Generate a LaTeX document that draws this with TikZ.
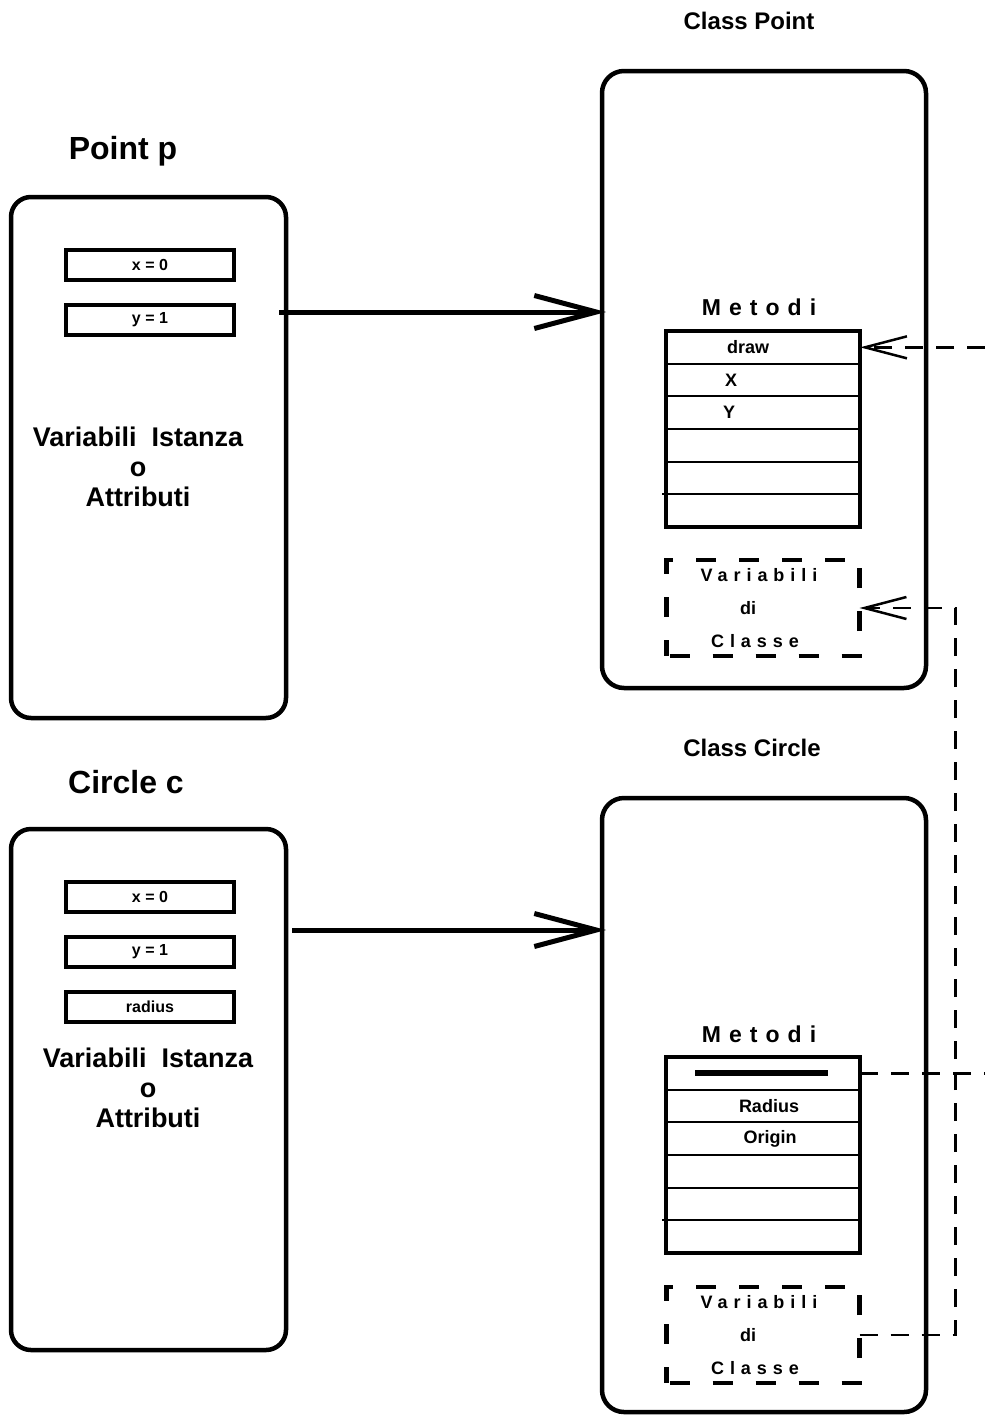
\documentclass[tikz,border=0pt]{standalone}
\usepackage{fontspec}
\setmainfont{Liberation Sans}
\newfontfamily\spacedfont[LetterSpace=35.0]{Liberation Sans}
\newfontfamily\widefont[LetterSpace=33.0]{Liberation Sans}
\newcommand\wide[1]{{\widefont\bfseries #1}}
\usetikzlibrary{arrows.meta,positioning}
\tikzset{
  objbox/.style={rectangle, rounded corners=20pt, draw, line width=4.5pt,
                 minimum width=275pt, minimum height=521pt, outer sep=0pt},
  classbox/.style={rectangle, rounded corners=22pt, draw, line width=4.5pt,
                   minimum width=324pt, outer sep=0pt},
  fieldbox/.style={rectangle, draw, line width=4.5pt, minimum width=168pt,
                   minimum height=30pt, inner sep=0pt,
                   font=\bfseries\fontsize{16}{19}\selectfont},
  methrow/.style={rectangle, draw, line width=2pt, minimum width=194pt,
                  minimum height=32.67pt, inner sep=0pt, outer sep=0pt},
  methframe/.style={line width=4.5pt},
  methtxt/.style={inner sep=1pt, font=\bfseries\fontsize{18}{21}\selectfont},
  methhead/.style={inner sep=1pt, font=\spacedfont\bfseries\fontsize{23}{26}\selectfont},
  cvarbox/.style={rectangle, draw, line width=4.5pt, dash pattern=on 20pt off 23pt,
                  dash phase=-3pt, minimum width=193pt, minimum height=96pt,
                  align=center, inner sep=0pt, outer sep=0pt,
                  font=\bfseries\fontsize{18}{33}\selectfont},
  bigtitle/.style={inner sep=1pt, font=\bfseries\fontsize{32}{36}\selectfont},
  classtitle/.style={inner sep=1pt, font=\bfseries\fontsize{24}{28}\selectfont},
  attrtxt/.style={align=center, inner sep=1pt, font=\bfseries\fontsize{27}{30}\selectfont},
  solidarr/.style={-{Straight Barb[length=62pt,width=33pt]}, line width=5pt},
  dashline/.style={line width=2.5pt, dash pattern=on 18pt off 13pt},
  dasharr/.style={dashline, -{Straight Barb[length=42pt,width=22pt,line width=2.5pt]}},
}
\begin{document}
\begin{tikzpicture}[x=1pt, y=-1pt]
  \useasboundingbox (0,0) rectangle (985,1416);

  % object Point p
  \node[bigtitle] (ptitle) at (123,151) {Point p};
  \node[objbox] (pobj) at (148.5,457.5) {};
  \node[fieldbox] (px) at (150,265) {x = 0};
  \node[fieldbox] (py) at (150,320) {y = 1};
  \node[attrtxt] (pattr) at (138,467) {Variabili~~Istanza\\o\\Attributi};

  % object Circle c
  \node[bigtitle] (ctitle) at (126,782) {Circle c};
  \node[objbox] (cobj) at (148.5,1089.5) {};
  \node[fieldbox] (cx) at (150,897) {x = 0};
  \node[fieldbox] (cy) at (150,952) {y = 1};
  \node[fieldbox] (crad) at (150,1007) {radius};
  \node[attrtxt] (cattr) at (148,1088) {Variabili~~Istanza\\o\\Attributi};

  % class Point
  \node[classtitle] (pclasstitle) at (749,21) {Class Point};
  \node[classbox, minimum height=617pt] (pclass) at (764,379.5) {};
  \node[methhead] (pmhead) at (759,307) {Metodi};
  \foreach \i in {1,...,6}
    \node[methrow] (pr\i) at (763,{331+32.67*(\i-0.5)}) {};
  \draw[methframe] (pr1.north west) rectangle (pr6.south east);
  \draw[line width=2pt] ([xshift=-4pt]pr6.north west) -- (pr6.north west);
  \node[methtxt] (pdraw) at ([xshift=-15pt]pr1.center) {draw};
  \node[methtxt] (pX) at ([xshift=-32pt]pr2.center) {X};
  \node[methtxt] (pY) at ([xshift=-34pt]pr3.center) {Y};
  \node[cvarbox] (pvars) at (763,608)
    {\wide{Variabili}\kern8pt\\di\kern30pt\\\wide{Classe}\kern16pt};

  % class Circle
  \node[classtitle] (cclasstitle) at (752,748) {Class Circle};
  \node[classbox, minimum height=614pt] (cclass) at (764,1105) {};
  \node[methhead] (cmhead) at (759,1034) {Metodi};
  \foreach \i in {1,...,6}
    \node[methrow] (cr\i) at (763,{1057+32.67*(\i-0.5)}) {};
  \draw[methframe] (cr1.north west) rectangle (cr6.south east);
  \draw[line width=2pt] ([xshift=-4pt]cr6.north west) -- (cr6.north west);
  \draw[line width=6pt] ([xshift=-68pt]cr1.center) -- ([xshift=65pt]cr1.center);
  \node[methtxt] (cradius) at ([xshift=6pt]cr2.center) {Radius};
  \node[methtxt] (corigin) at ([xshift=7pt]cr3.center) {Origin};
  \node[cvarbox] (cvars) at (763,1335)
    {\wide{Variabili}\kern8pt\\di\kern30pt\\\wide{Classe}\kern16pt};

  % instance links
  \coordinate (plink) at (0,312);
  \coordinate (clink) at (0,930);
  \draw[solidarr, shorten <=-7pt, shorten >=-4pt] (pobj.east |- plink) -- (pclass.west |- plink);
  \draw[solidarr, shorten <=6pt, shorten >=-4pt] (cobj.east |- clink) -- (cclass.west |- clink);

  % dashed links
  \coordinate[right=125pt of pr1.east] (drawsrc);
  \coordinate[right=125pt of cr1.east] (radsrc);
  \draw[dasharr] (drawsrc) -- (pr1.east);
  \draw[dashline] (cr1.east) -- (radsrc);
  \draw[dasharr] (cvars.east) -- ++(96,0) |- (pvars.east);
\end{tikzpicture}
\end{document}
